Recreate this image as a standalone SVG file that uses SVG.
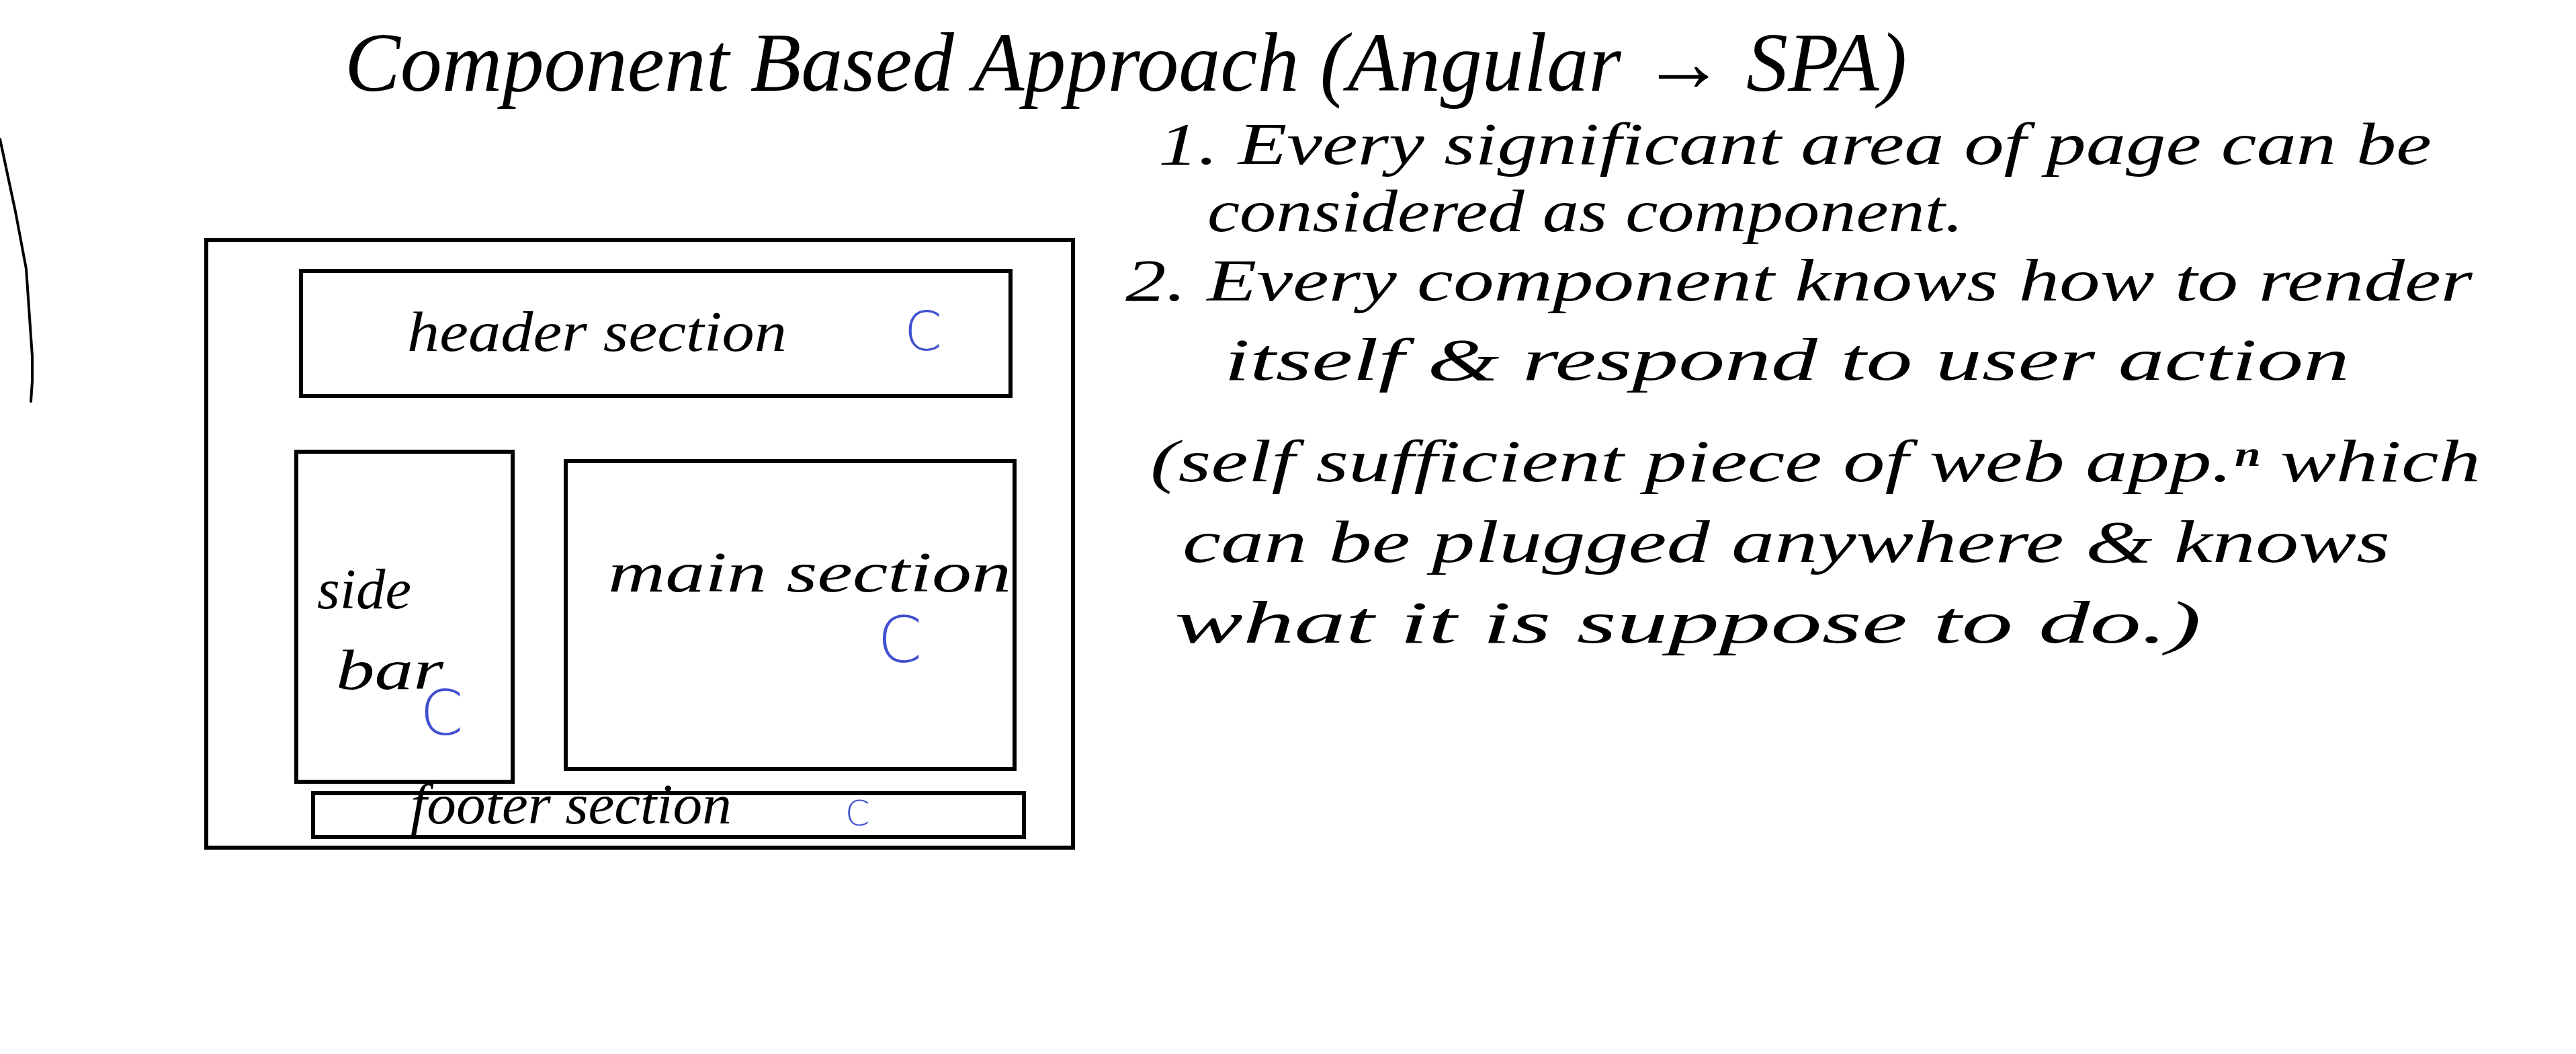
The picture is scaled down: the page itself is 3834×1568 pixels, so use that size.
<svg xmlns="http://www.w3.org/2000/svg" width="3834" height="1568" viewBox="0 0 3834 1568">
  <style>
    .box { fill: none; stroke: #000; stroke-width: 6; }
    .hand { font-family: "Liberation Serif", "DejaVu Serif", serif; font-style: italic; fill: #000; }
    .title { font-size: 124px; }
    .note { font-size: 88px; }
    .label { font-size: 84px; }
    .comp { font-family: "DejaVu Sans", "Liberation Sans", sans-serif; font-weight: 300; fill: #4050d0; }
    .mark { fill: none; stroke: #000; stroke-width: 4; stroke-linecap: round; stroke-linejoin: round; }
  </style>
  <rect width="3834" height="1568" fill="#ffffff"/>

  <g id="title">
    <text class="hand title" x="513" y="135" textLength="2325" lengthAdjust="spacingAndGlyphs">Component Based Approach (Angular → SPA)</text>
  </g>

  <g id="side-mark">
    <path class="mark" d="M0,207 L23,315 L39,400 L48,530 L48,567 L46,597"/>
  </g>

  <g id="page">
    <rect class="box" x="307" y="357" width="1290" height="904"/>
  </g>

  <g id="header">
    <rect class="box" x="448" y="403" width="1056" height="186"/>
    <text class="hand label" x="606" y="522" textLength="565" lengthAdjust="spacingAndGlyphs">header section</text>
    <text class="comp" x="1346" y="521" font-size="80">C</text>
  </g>

  <g id="sidebar">
    <rect class="box" x="441" y="672" width="322" height="491"/>
    <text class="hand label" x="472" y="905" textLength="140" lengthAdjust="spacingAndGlyphs">side</text>
    <text class="hand label" x="500" y="1025" textLength="160" lengthAdjust="spacingAndGlyphs">bar</text>
    <text class="comp" x="625" y="1093" font-size="92">C</text>
  </g>

  <g id="main">
    <rect class="box" x="842" y="686" width="668" height="458"/>
    <text class="hand label" x="905" y="880" font-size="90" textLength="600" lengthAdjust="spacingAndGlyphs">main section</text>
    <text class="comp" x="1306" y="985" font-size="95">C</text>
  </g>

  <g id="footer">
    <rect class="box" x="466" y="1180" width="1058" height="65"/>
    <text class="hand label" x="611" y="1225" font-size="68" textLength="478" lengthAdjust="spacingAndGlyphs">footer section</text>
    <text class="comp" x="1258" y="1228" font-size="52">C</text>
  </g>

  <g id="notes">
    <text class="hand note" x="1724" y="244" textLength="1895" lengthAdjust="spacingAndGlyphs">1. Every significant area of page can be</text>
    <text class="hand note" x="1797" y="344" textLength="1125" lengthAdjust="spacingAndGlyphs">considered as component.</text>
    <text class="hand note" x="1675" y="447" textLength="2005" lengthAdjust="spacingAndGlyphs">2. Every component knows how to render</text>
    <text class="hand note" x="1822" y="565" textLength="1675" lengthAdjust="spacingAndGlyphs">itself &amp; respond to user action</text>
    <text class="hand note" x="1712" y="716" textLength="1980" lengthAdjust="spacingAndGlyphs">(self sufficient piece of web app.ⁿ which</text>
    <text class="hand note" x="1760" y="836" textLength="1797" lengthAdjust="spacingAndGlyphs">can be plugged anywhere &amp; knows</text>
    <text class="hand note" x="1748" y="956" textLength="1528" lengthAdjust="spacingAndGlyphs">what it is suppose to do.)</text>
  </g>

  <g id="connectors"></g>
</svg>
